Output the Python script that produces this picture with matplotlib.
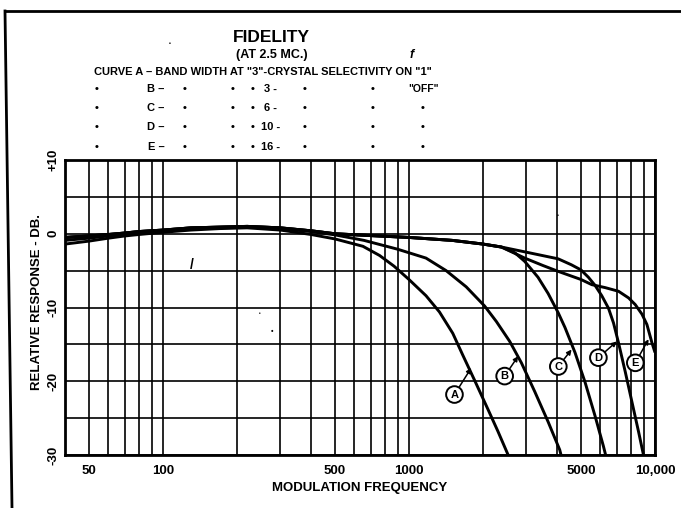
import matplotlib
matplotlib.use('Agg')
import matplotlib.pyplot as plt
from matplotlib.lines import Line2D
from matplotlib.ticker import LogLocator, FixedLocator, NullFormatter

# ---------------- data ----------------
curve_names = ['A', 'B', 'C', 'D', 'E']

freq_A = [40, 50, 60, 70, 80, 100, 130, 170, 220, 300, 400, 500, 650, 760, 870,
          1000, 1173, 1330, 1507, 1652, 1850, 2094, 2300, 2530]
db_A = [-1.4, -1.0, -0.6, -0.3, -0.1, 0.2, 0.5, 0.7, 0.8, 0.5, -0.1, -0.7, -1.7, -2.95, -4.4,
        -6.2, -8.4, -10.6, -13.5, -16.4, -19.9, -23.8, -26.8, -30.0]

freq_B = [40, 50, 60, 70, 80, 100, 130, 170, 220, 300, 400, 500, 657, 900,
          1173, 1416, 1709, 2030, 2266, 2568, 2864, 3245, 3678, 4100, 4150]
db_B = [-0.9, -0.6, -0.3, -0.1, 0.1, 0.4, 0.7, 0.8, 0.9, 0.7, 0.3, -0.15, -0.9, -2.1,
        -3.3, -5.0, -7.2, -9.8, -11.9, -14.6, -17.5, -21.4, -25.5, -29.3, -30.0]

freq_C = [40, 50, 60, 70, 80, 100, 130, 170, 220, 300, 400, 500, 700, 1000, 1500,
          2000, 2375, 2700, 2955, 3346, 3678, 4040, 4305, 4729, 5193, 5706, 6170, 6300]
db_C = [-0.5, -0.3, -0.1, 0.1, 0.3, 0.5, 0.8, 0.9, 1.0, 0.8, 0.4, 0.0, -0.25, -0.5, -0.9,
        -1.4, -1.8, -2.6, -3.75, -5.9, -8.1, -10.7, -12.7, -16.1, -20.1, -24.7, -28.8, -30.0]

freq_D = [40, 50, 60, 70, 80, 100, 130, 170, 220, 300, 400, 500, 700, 1000, 1500,
          2000, 2375, 3000, 4040, 4567, 5000, 5362, 5706, 6076, 6471, 6783, 7109, 7568,
          8058, 8581, 8900, 8980]
db_D = [-0.5, -0.3, -0.1, 0.1, 0.3, 0.5, 0.8, 0.9, 1.0, 0.8, 0.4, 0.0, -0.25, -0.5, -0.9,
        -1.4, -1.8, -2.5, -3.4, -4.2, -4.9, -5.9, -7.0, -8.4, -10.1, -12.1, -14.8, -18.7,
        -22.8, -26.9, -29.4, -30.0]

freq_E = [40, 50, 60, 70, 80, 100, 130, 170, 220, 300, 400, 500, 700, 1000, 1500,
          2000, 2375, 2955, 3500, 4040, 5000, 5533, 6268, 7109, 7809, 8310, 8850, 9270, 9722, 10000]
db_E = [-0.5, -0.3, -0.1, 0.1, 0.3, 0.5, 0.8, 0.9, 1.0, 0.8, 0.4, 0.0, -0.25, -0.5, -0.9,
        -1.4, -1.8, -3.3, -4.3, -5.1, -6.2, -6.9, -7.3, -7.8, -8.7, -9.6, -10.9, -12.3, -14.8, -16.1]

x_ticks = [50, 100, 500, 1000, 5000, 10000]
x_tick_labels = ['50', '100', '500', '1000', '5000', '10,000']
y_ticks = [10, 0, -10, -20, -30]
y_tick_labels = ['+10', '0', '-10', '-20', '-30']

title_text = 'FIDELITY'
subtitle_text = '(AT 2.5 MC.)'
header_text = 'CURVE A \u2013 BAND WIDTH AT "3"-CRYSTAL SELECTIVITY ON "1"'
table_letters = ['B', 'C', 'D', 'E']
table_bandwidths = ['3', '6', '10', '16']
table_last = ['"OFF"', '\u2022', '\u2022', '\u2022']
x_label_text = 'MODULATION FREQUENCY'
y_label_text = 'RELATIVE RESPONSE - DB.'

# ---------------- figure ----------------
FONT = ['Liberation Sans', 'DejaVu Sans']
plt.rcParams['font.family'] = FONT
plt.rcParams['font.weight'] = 'bold'

W, H = 681, 508
fig = plt.figure(figsize=(W / 100, H / 100), dpi=100)
fig.patch.set_facecolor('white')


def fx(px):
    return px / W


def fy(py):
    return 1 - py / H


ax = fig.add_axes([fx(65), fy(455), (655 - 65) / W, (455 - 160) / H])
ax.set_xscale('log')
ax.set_xlim(40, 10000)
ax.set_ylim(-30, 10)

ax.xaxis.set_major_locator(FixedLocator(x_ticks))
ax.set_xticklabels(x_tick_labels)
ax.xaxis.set_minor_locator(LogLocator(base=10, subs=[1, 2, 3, 4, 5, 6, 7, 8, 9], numticks=20))
ax.xaxis.set_minor_formatter(NullFormatter())
ax.yaxis.set_major_locator(FixedLocator(y_ticks))
ax.set_yticklabels(y_tick_labels)
ax.yaxis.set_minor_locator(FixedLocator([5, -5, -15, -25]))

ax.grid(which='both', color='black', lw=1.2)
ax.set_axisbelow(True)
ax.tick_params(which='both', length=0)
ax.tick_params(axis='x', pad=7, labelsize=9.5)
ax.tick_params(axis='y', pad=4, labelsize=9.5)
for lab in ax.get_yticklabels():
    lab.set_rotation(90)
    lab.set_va('center')
for s in ax.spines.values():
    s.set_linewidth(2.0)
    s.set_color('black')

series = [(freq_A, db_A), (freq_B, db_B), (freq_C, db_C), (freq_D, db_D), (freq_E, db_E)]
for (f, d) in series:
    ax.plot(f, d, color='black', lw=2.1, solid_capstyle='butt', solid_joinstyle='round', zorder=3)

ax.set_xlabel(x_label_text, fontsize=9.5, fontweight='bold', labelpad=4)
ax.set_ylabel(y_label_text, fontsize=9.5, fontweight='bold')
ax.yaxis.set_label_coords(-0.037, 0.52)

# circled curve labels with arrows
label_spots = {
    'A': ((1531, -21.8), (1791, -18.2)),
    'B': ((2449, -19.3), (2778, -16.6)),
    'C': ((4046, -18.0), (4581, -15.7)),
    'D': ((5888, -16.8), (6998, -14.6)),
    'E': ((8318, -17.5), (9414, -14.3)),
}
for name in curve_names:
    (cx, cy), (tx, ty) = label_spots[name]
    ax.annotate(name, xy=(tx, ty), xytext=(cx, cy), ha='center', va='center',
                fontsize=8, fontweight='bold', zorder=5,
                bbox=dict(boxstyle='circle,pad=0.3', fc='white', ec='black', lw=1.4),
                arrowprops=dict(arrowstyle='-|>', color='black', lw=1.1,
                                mutation_scale=7, shrinkA=0, shrinkB=0))

# title block
fig.text(fx(271), fy(37), title_text, ha='center', va='center', fontsize=12.5, fontweight='bold')
fig.text(fx(272), fy(55), subtitle_text, ha='center', va='center', fontsize=9, fontweight='bold')
fig.text(fx(263), fy(72), header_text, ha='center', va='center', fontsize=8, fontweight='bold')

row_y = [89, 108, 127, 147]
for i in range(4):
    y = fy(row_y[i])
    for px in [97, 185, 233, 253, 305, 373]:
        fig.text(fx(px), y, '\u2022', ha='center', va='center', fontsize=8, fontweight='bold')
    fig.text(fx(156), y, table_letters[i] + ' \u2013', ha='center', va='center', fontsize=8, fontweight='bold')
    fig.text(fx(271), y, table_bandwidths[i] + ' -', ha='center', va='center', fontsize=8, fontweight='bold')
    fig.text(fx(423), y, table_last[i], ha='center', va='center',
             fontsize=7.5 if i == 0 else 8, fontweight='bold')

# stray marks of the scan
fig.text(fx(412), fy(55), 'f', ha='center', va='center', fontsize=9, fontstyle='italic')
fig.text(fx(170), fy(43), '\u2022', ha='center', va='center', fontsize=4)
fig.text(fx(192), fy(265), '/', ha='center', va='center', fontsize=10)
fig.text(fx(260), fy(313), '\u2022', ha='center', va='center', fontsize=3.5)
fig.text(fx(272), fy(332), '\u2022', ha='center', va='center', fontsize=5)
fig.text(fx(558), fy(215), '\u2022', ha='center', va='center', fontsize=4)

# page border lines
fig.add_artist(Line2D([fx(5), fx(681)], [fy(11), fy(11)], transform=fig.transFigure,
                      color='black', lw=2.0))
fig.add_artist(Line2D([fx(5), fx(12)], [fy(11), fy(508)], transform=fig.transFigure,
                      color='black', lw=2.0))

fig.savefig('out.png', dpi=100, facecolor='white')
